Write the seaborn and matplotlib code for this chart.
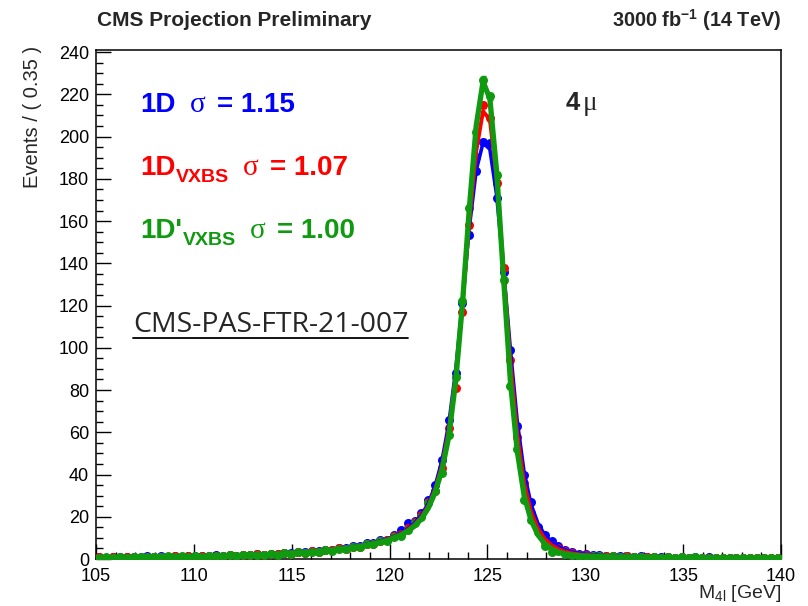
import numpy as np
import pandas as pd
import matplotlib
matplotlib.use("Agg")
import matplotlib.pyplot as plt
from matplotlib.lines import Line2D
import seaborn as sns

# ---------------- data ----------------
x_min, x_max, bin_w = 105.0, 140.0, 0.35
bin_centers = np.round(np.arange(x_min + bin_w / 2, x_max, bin_w), 3)

blue_fit = [0.75,0.77,0.80,0.82,0.85,0.88,0.91,0.95,0.99,1.03,
            1.07,1.12,1.17,1.22,1.28,1.34,1.41,1.48,1.56,1.65,
            1.74,1.84,1.95,2.07,2.20,2.34,2.50,2.67,2.86,3.07,
            3.30,3.56,3.84,4.15,4.50,4.89,5.33,5.82,6.38,7.01,
            7.72,8.53,9.45,10.6,12.2,14.3,17.0,20.8,26.3,34.5,
            46.5,64.0,89.0,122.0,157.0,184.0,197.0,194.0,172.0,137.0,
            99.0,65.0,41.0,26.0,17.0,11.5,8.0,5.8,4.3,3.3,
            2.7,2.25,1.95,1.72,1.55,1.41,1.30,1.21,1.13,1.06,
            1.00,0.95,0.90,0.86,0.82,0.79,0.76,0.73,0.70,0.68,
            0.66,0.64,0.62,0.60,0.58,0.57,0.55,0.54,0.53,0.52]
red_fit = [0.72,0.74,0.77,0.80,0.82,0.85,0.88,0.92,0.96,1.00,
           1.04,1.08,1.13,1.18,1.24,1.30,1.36,1.43,1.51,1.59,
           1.68,1.78,1.88,2.00,2.12,2.26,2.41,2.58,2.76,2.96,
           3.19,3.44,3.72,4.02,4.36,4.74,5.17,5.64,6.18,6.79,
           7.47,8.25,9.15,10.3,11.8,13.8,16.3,19.9,25.2,33.0,
           44.0,61.0,86.0,120.0,160.0,193.0,212.0,208.0,180.0,137.0,
           93.0,59.0,36.0,22.5,14.5,9.6,6.6,4.7,3.5,2.7,
           2.2,1.85,1.60,1.42,1.29,1.18,1.10,1.03,0.97,0.92,
           0.88,0.84,0.80,0.77,0.74,0.71,0.69,0.67,0.65,0.63,
           0.61,0.59,0.58,0.56,0.55,0.54,0.52,0.51,0.50,0.49]
green_fit = [0.70,0.72,0.75,0.77,0.80,0.83,0.86,0.89,0.93,0.97,
             1.01,1.05,1.10,1.15,1.20,1.26,1.32,1.39,1.46,1.54,
             1.63,1.72,1.82,1.93,2.05,2.18,2.33,2.49,2.67,2.87,
             3.09,3.33,3.60,3.90,4.23,4.60,5.01,5.47,5.99,6.57,
             7.22,7.95,8.80,10.0,11.4,13.2,15.6,19.0,24.0,31.5,
             42.0,58.0,84.0,121.0,166.0,205.0,226.0,218.0,183.0,133.0,
             84.0,51.0,30.0,18.5,11.5,7.3,4.8,3.3,2.4,1.9,
             1.6,1.4,1.28,1.18,1.10,1.03,0.97,0.92,0.88,0.84,
             0.80,0.77,0.74,0.71,0.68,0.66,0.64,0.62,0.60,0.58,
             0.56,0.55,0.53,0.52,0.51,0.50,0.49,0.48,0.47,0.46]

blue_data = [0.9,0.7,1.0,0.8,1.1,0.8,1.0,1.2,0.9,1.2,
             1.0,1.3,1.1,1.4,1.2,1.5,1.3,1.7,1.5,1.8,
             1.6,2.0,1.8,2.3,2.0,2.6,2.3,2.9,2.7,3.3,
             3.1,3.8,3.6,4.4,4.2,5.2,5.0,6.1,6.1,7.4,
             7.5,8.9,9.2,11.3,13.7,17.0,18.0,22.0,28.0,35.0,
             46.7,66.0,88.0,121.0,153.6,183.5,197.6,197.0,171.0,136.0,
             99.0,63.0,40.0,27.0,15.0,11.5,8.5,6.0,4.3,3.5,
             2.6,2.4,1.8,1.9,1.4,1.6,1.2,1.4,1.0,1.2,
             0.9,1.1,0.8,1.0,0.7,0.9,0.7,0.8,0.6,0.8,
             0.6,0.7,0.5,0.7,0.5,0.6,0.5,0.6,0.4,0.6]
red_data = [0.8,0.6,0.9,0.7,1.0,0.9,0.7,1.1,0.8,1.1,
            0.9,1.2,1.0,1.3,1.1,1.4,1.2,1.6,1.4,1.7,
            1.5,1.9,1.7,2.2,1.9,2.5,2.2,2.8,2.6,3.2,
            3.0,3.6,3.5,4.2,4.1,5.0,4.9,5.9,5.9,7.1,
            7.2,8.6,8.8,10.8,12.0,14.5,17.5,21.0,27.0,32.0,
            43.0,62.0,81.0,117.0,158.0,190.5,215.0,209.0,178.0,138.0,
            94.0,58.0,36.0,22.0,13.7,8.0,6.5,5.0,3.6,2.9,
            2.1,2.0,1.5,1.6,1.2,1.3,1.0,1.2,0.9,1.0,
            0.8,1.0,0.7,0.9,0.7,0.8,0.6,0.7,0.6,0.7,
            0.5,0.7,0.5,0.6,0.5,0.6,0.4,0.5,0.5,0.5]
green_data = [0.6,0.9,0.7,0.8,0.6,1.0,0.8,0.9,1.1,0.9,
              1.2,0.9,1.3,1.0,1.3,1.1,1.5,1.4,1.3,1.7,
              1.5,1.9,1.7,2.1,1.8,2.4,2.1,2.7,2.5,3.1,
              2.9,3.5,3.4,4.1,3.9,4.8,4.7,5.6,5.8,6.9,
              7.0,8.3,8.5,10.4,11.0,13.6,17.0,20.0,26.3,32.0,
              40.7,58.5,86.0,122.0,166.0,202.0,227.0,219.0,182.0,132.0,
              82.0,52.0,28.0,18.4,13.0,6.0,3.5,3.6,2.2,2.1,
              1.4,1.6,1.2,1.4,1.0,1.2,0.9,1.1,0.8,1.0,
              0.7,0.9,0.6,0.9,0.6,0.8,0.5,0.8,0.6,0.7,
              0.5,0.7,0.4,0.6,0.5,0.6,0.4,0.6,0.4,0.5]

series_names = ["1D", "1D_VXBS", "1D'_VXBS"]
sigma_values = ["1.15", "1.07", "1.00"]
colors = ["#0000ff", "#ff0000", "#109a10"]

# ---------------- style ----------------
sns.set_theme(style="white")
plt.rcParams["font.family"] = ["Liberation Sans", "DejaVu Sans"]
plt.rcParams["mathtext.default"] = "regular"
plt.rcParams["axes.linewidth"] = 1.1

W, H = 808, 606
fig = plt.figure(figsize=(W / 100, H / 100), dpi=100)
ax_l, ax_r, ax_b, ax_t = 96, 781, 559, 50
ax = fig.add_axes([ax_l / W, 1 - ax_b / H, (ax_r - ax_l) / W, (ax_b - ax_t) / H])

fits = [blue_fit, red_fit, green_fit]
datas = [blue_data, red_data, green_data]
lws = [2.6, 2.8, 3.8]
for fit, dat, col, lw in zip(fits, datas, colors, lws):
    dat = np.asarray(dat)
    yerr = 0.08 * np.sqrt(dat) + 0.3
    ax.errorbar(bin_centers, dat, yerr=yerr, fmt="none", ecolor=col,
                elinewidth=1.0, capsize=1.8, zorder=2)
    sns.scatterplot(x=bin_centers, y=dat, color=col, s=42, edgecolor=col,
                    linewidth=0, ax=ax, zorder=3, legend=False)
    sns.lineplot(x=bin_centers, y=fit, color=col, lw=lw, ax=ax, zorder=4,
                 legend=False)

ax.set_xlim(x_min, x_max)
ax.set_ylim(0, 241)
ax.set_xticks(np.arange(105, 141, 5))
ax.set_xticks(np.arange(105, 141, 1), minor=True)
ax.set_yticks(np.arange(0, 241, 20))
ax.set_yticks(np.arange(0, 241, 5), minor=True)
ax.tick_params(axis="both", which="major", direction="in", length=11,
               width=1.0, labelsize=13, color="black", labelcolor="black")
ax.tick_params(axis="both", which="minor", direction="in", length=5.2,
               width=1.0, color="black")
ax.tick_params(axis="x", which="both", bottom=True, top=False, pad=6.5)
ax.tick_params(axis="y", which="both", left=True, right=False, pad=5)
for sp in ax.spines.values():
    sp.set_color("black")
ax.set_xlabel("")
ax.set_ylabel("")

# axis titles
fig.text(ax_r / W, 1 - 594 / H, "M$_{4l}$ [GeV]", ha="right", va="center",
         fontsize=14)
fig.text(33 / W, 1 - 46 / H, "Events / ( 0.35 )", rotation=90, ha="center",
         va="top", fontsize=14.5)

# header
fig.text(97 / W, 1 - 20 / H, "CMS Projection Preliminary", ha="left",
         va="center", fontsize=15, fontweight="bold")
fig.text(ax_r / W, 1 - 20 / H, "3000 fb$^{-1}$ (14 TeV)", ha="right",
         va="center", fontsize=14.3, fontweight="bold")

# legend-like labels
def px(xp, yp):
    return xp / W, 1 - yp / H

rows = [(112, "1D", "", 190, 217), (175, "1D", "VXBS", 243, 270),
        (238, "1D'", "VXBS", 250, 277)]
for (yb, main, sub, sx, ex), col, sig in zip(rows, colors, sigma_values):
    fig.text(*px(140, yb), main, color=col, fontsize=20, fontweight="bold",
             ha="left", va="baseline")
    if sub:
        mx = 176 if main == "1D" else 183
        fig.text(*px(mx, yb + 7), sub, color=col, fontsize=14,
                 fontweight="bold", ha="left", va="baseline")
    fig.text(*px(sx, yb), "σ", color=col, fontsize=21,
             family=["Liberation Serif", "DejaVu Serif"], ha="left",
             va="baseline")
    fig.text(*px(ex, yb), "= " + sig, color=col, fontsize=20,
             fontweight="bold", ha="left", va="baseline")

fig.text(*px(566, 110), "4", fontsize=18.5, fontweight="bold", ha="left",
         va="baseline")
fig.text(*px(583, 110), "μ", fontsize=19.5,
         family=["Liberation Serif", "DejaVu Serif"], ha="left", va="baseline")

fig.text(*px(133, 332), "CMS-PAS-FTR-21-007", fontsize=20.5,
         family=["Open Sans", "DejaVu Sans"], ha="left", va="baseline")
fig.add_artist(Line2D([133 / W, 408 / W], [1 - 338 / H, 1 - 338 / H],
                      color="black", lw=1.3, transform=fig.transFigure))

fig.savefig("out.png", dpi=100)
